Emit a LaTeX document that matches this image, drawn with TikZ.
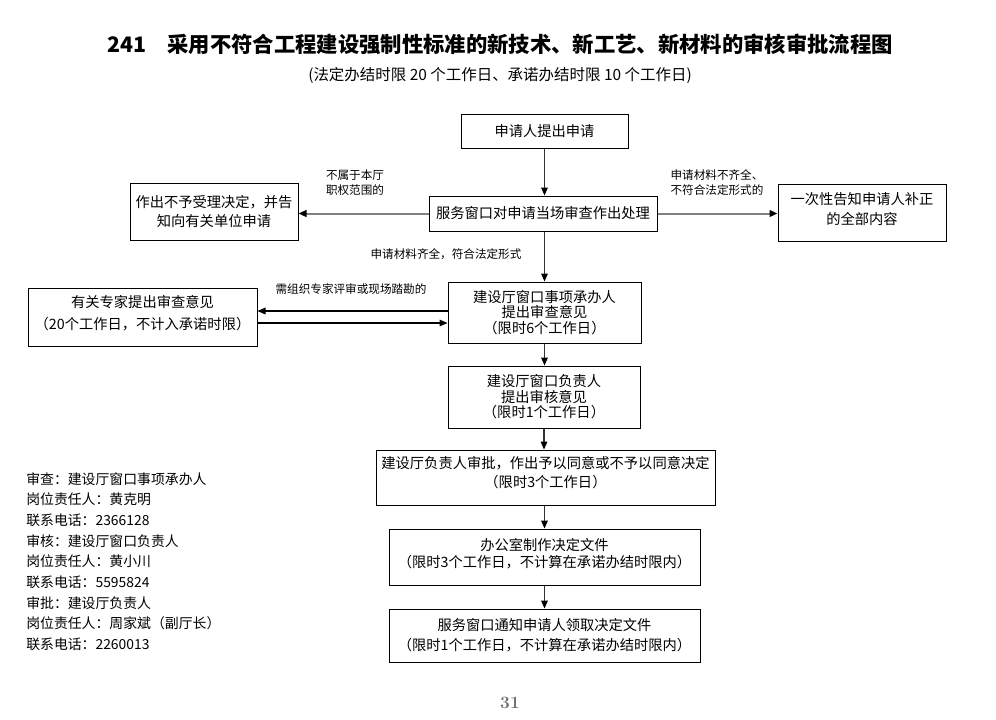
\documentclass[tikz,border=0pt]{standalone}
\usepackage{fontspec}
\newfontfamily\cjk{Noto Sans CJK SC}
\usetikzlibrary{arrows.meta}

\begin{document}
\begin{tikzpicture}[x=0.75pt,y=0.75pt,yscale=-1,xscale=1,
	box/.style={draw, line width=0.75pt, inner sep=0pt, align=center, font=\cjk\fontsize{10.7}{11.6}\selectfont},
	flow/.style={draw={rgb, 255:red, 50; green, 50; blue, 50}, line width=0.8pt, -{Triangle[length=6pt,width=5pt,color=black]}},
	side/.style={draw={rgb, 255:red, 128; green, 128; blue, 128}, line width=1.5pt, -{Triangle[length=6pt,width=5pt,color=black]}},
	plain/.style={draw, line width=0.8pt, -{Triangle[length=6pt,width=5pt]}},
	note/.style={inner sep=0.75pt, align=left, font=\cjk\fontsize{8.7}{11.3}\selectfont}]
	\useasboundingbox (0,0) rectangle (996,719);
	\draw (500,44) node [inner sep=0.75pt, font=\cjk\bfseries\fontsize{16}{18}\selectfont] (title) {241\quad 采用不符合工程建设强制性标准的新技术、新工艺、新材料的审核审批流程图};
	\draw (500,75) node [inner sep=0.75pt, font=\cjk\fontsize{11.6}{12}\selectfont] (subtitle) {(法定办结时限 20 个工作日、承诺办结时限 10 个工作日)};
	\draw (544.5,131) node [box, minimum width=125.25pt, minimum height=25.5pt] (apply) {申请人提出申请};
	\draw (543,213.5) node [box, minimum width=171pt, minimum height=26.25pt] (window) {服务窗口对申请当场审查作出处理};
	\draw (214,211.5) node [box, minimum width=126pt, minimum height=42.75pt] (reject) {作出不予受理决定，并告\\[2.6pt]知向有关单位申请};
	\draw (862,212.5) node [box, minimum width=126pt, minimum height=42.75pt, text depth=6.5pt] (supplement) {一次性告知申请人补正\\[3.4pt]的全部内容};
	\draw (544.5,312.5) node [box, minimum width=144.75pt, minimum height=45.75pt] (handler) {建设厅窗口事项承办人\\提出审查意见\\（限时6个工作日）};
	\draw (142.5,317) node [box, minimum width=171.75pt, minimum height=43.5pt, text depth=7.3pt] (expert) {有关专家提出审查意见\\[4.9pt]（20个工作日，不计入承诺时限）};
	\draw (544,397) node [box, minimum width=144pt, minimum height=46.5pt] (chief) {建设厅窗口负责人\\提出审核意见\\（限时1个工作日）};
	\draw (545.5,477.5) node [box, minimum width=254.25pt, minimum height=41.25pt, text depth=9pt] (approve) {建设厅负责人审批，作出予以同意或不予以同意决定\\[2.6pt]（限时3个工作日）};
	\draw (544.5,557) node [box, minimum width=233.25pt, minimum height=42pt, text depth=6.5pt] (office) {办公室制作决定文件\\[1.2pt]（限时3个工作日，不计算在承诺办结时限内）};
	\draw (544.5,635.5) node [box, minimum width=233.25pt, minimum height=39.75pt] (notify) {服务窗口通知申请人领取决定文件\\[3.4pt]（限时1个工作日，不计算在承诺办结时限内）};
	\draw (355,183) node [note] (lblscope) {不属于本厅\\职权范围的};
	\draw (717,183) node [note] (lblincomplete) {申请材料不齐全、\\不符合法定形式的};
	\draw (446,254) node [note] (lblcomplete) {申请材料齐全，符合法定形式};
	\draw (351,289) node [note] (lblexpert) {需组织专家评审或现场踏勘的};
	\draw [flow] (apply.south) -- (apply.south |- window.north);
	\draw [side] (window.west) -- (window.west -| reject.east);
	\draw [side] (window.east) -- (window.east -| supplement.west);
	\draw [flow] (window.south -| handler.north) -- (handler.north);
	\coordinate (upper) at ([yshift=-4.5pt]expert.east);
	\coordinate (lower) at ([yshift=4.5pt]expert.east);
	\draw [plain] (upper -| handler.west) -- (upper);
	\draw [plain] (lower) -- (lower -| handler.west);
	\draw [flow] (handler.south) -- (handler.south |- chief.north);
	\draw [flow] (chief.south) -- (chief.south |- approve.north);
	\draw [flow] (approve.south -| office.north) -- (office.north);
	\draw [flow] (office.south) -- (notify.north);
	\draw (26,472) node [anchor=north west, inner sep=0pt, align=left, font=\cjk\fontsize{10.4}{15.5}\selectfont] (contacts) {审查：建设厅窗口事项承办人\\岗位责任人：黄克明\\联系电话：2366128\\审核：建设厅窗口负责人\\岗位责任人：黄小川\\联系电话：5595824\\审批：建设厅负责人\\岗位责任人：周家斌（副厅长）\\联系电话：2260013};
	\draw (510,703) node [inner sep=0.75pt, text={rgb, 255:red, 110; green, 110; blue, 110}, font=\bfseries\fontsize{13}{14}\selectfont] (page) {31};
\end{tikzpicture}
\end{document}
